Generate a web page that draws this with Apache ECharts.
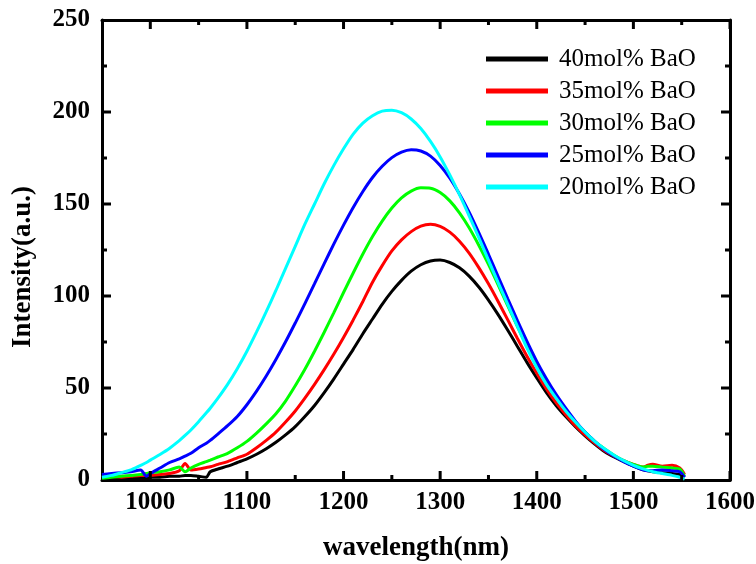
<!DOCTYPE html>
<html><head><meta charset="utf-8">
<script src="https://cdn.jsdelivr.net/npm/echarts@6/dist/echarts.min.js"></script>
<style>html,body{margin:0;padding:0;background:#fff}#c{width:756px;height:564px}</style>
</head><body><div id="c"></div>
<script>
// wavelength grid (nm)
const wavelength = [950,960,970,980,990,996,1000,1010,1020,1030,1036,1042,1050,1058,1062,
  1070,1080,1090,1100,1110,1120,1130,1140,1150,1160,1170,1180,1190,1200,1210,1220,1230,1240,1250,
  1260,1270,1280,1290,1300,1310,1320,1330,1340,1350,1360,1370,1380,1390,1400,1410,1420,1430,1440,
  1450,1460,1470,1480,1490,1500,1510,1515,1520,1530,1540,1548,1553];

const seriesNames = ['40mol% BaO','35mol% BaO','30mol% BaO','25mol% BaO','20mol% BaO'];
const seriesColors = ['#000000','#ff0000','#00ff00','#0000ff','#00ffff'];

const bao40 = [0.5,0.5,1,1,1,1,1.5,1.5,2,2,2.5,2.5,2,1.5,4.5,
  6,7.5,9.5,11.5,14,17,20.5,24.5,29,34.5,40.5,47.5,55,63,71,79.5,87.5,95.5,102.5,
  108.5,113.5,117,119,119.5,118.2,115.3,110.8,104.9,97.8,89.9,81.4,72.6,63.8,55.5,47.5,40.5,34.5,29,
  24,19.5,15.5,12.5,10,7.5,5.5,5,4.5,4,3.5,3,1.5];
const bao35 = [1.5,2,1.5,2,2.5,2.5,2.5,3,3.5,5,9,5.5,6,6.8,7.2,
  8.5,10,12,14,17.5,21.5,26,31.5,37.5,44.5,52,60,68.5,77.5,87,97,107.5,116.5,124.5,
  130.5,135,138,139,137.8,134.7,129.8,123.3,115.4,106.6,97,87,76.9,67.1,58,49.5,42,35.5,29.5,
  24.5,20,16,13,10.5,8.5,7,8,8.5,7.5,8,6.5,3];
const bao30 = [1,1.5,2,2.5,3,3.5,4,4.5,5.5,7,4.5,6.5,8.5,10,10.8,
  12.5,14.5,17.5,21,25.5,30.5,36,42.9,51.2,60.2,70,80.3,91,101.9,112.5,122.8,132.3,140.7,147.8,
  153.3,157,158.8,158.6,156.2,151.7,145.2,137.1,127.6,117.2,106.1,94.7,83.4,72.4,62,53,45,38,31.5,
  26,21,17,13.5,10.5,8.5,7,7.5,7.5,7,6.5,6,2];
const bao25 = [3,3.5,4,4.5,5.5,2,3.5,6.5,9.5,11.5,13,14.5,17.5,20,21.5,
  25,29.5,34.5,40.9,48.3,56.5,65.5,75.1,85.3,95.9,106.7,117.6,128.3,138.5,148.1,156.8,164.4,170.5,175.2,
  178.2,179.5,178.8,176,170.9,164,155.4,145.5,134.4,122.7,110.6,98.5,86.6,75.2,64.5,55,46.5,39,32,
  26,21,16.5,13,10,7.5,5.5,5,5,5.5,5,4.5,1.5];
const bao20 = [1.5,2.5,4,5.5,8,9.5,10.8,13.9,17.3,21.4,24.2,27.2,31.7,36.5,39,
  44.5,52,60.5,70,80.5,91.5,103,115,127,139,150,161,171,180,188,194,198,200.5,201,
  199.6,196.2,191,184,175.6,165.8,155.1,143.6,131.7,119.5,107.3,95.5,83.5,71.5,61,52,44.5,37.5,31.5,
  26,21,17,13.5,10.5,8,6,5.2,4.5,3.5,2.5,1.5,0.5];
const seriesValues = [bao40, bao35, bao30, bao25, bao20];

// axis ticks
const xMajorTicks = [1000,1100,1200,1300,1400,1500,1600];
const xMinorTicks = [1050,1150,1250,1350,1450,1550];
const yMajorTicks = [50,100,150,200];
const yMinorTicks = [25,75,125,175,225];
const xRange = [950, 1600];
const yRange = [0, 250];

const FONT = '"Liberation Serif","Times New Roman",serif';
const black = '#000';
const plain = v => String(v);

const chart = echarts.init(document.getElementById('c'));

function axisBase(pos) {
  return {
    type: 'value', position: pos,
    axisLine: { show: true, onZero: false, lineStyle: { color: black, width: 3 } },
    axisTick: { show: false }, minorTick: { show: false },
    splitLine: { show: false }, minorSplitLine: { show: false }
  };
}
const labelStyle = { fontFamily: FONT, fontWeight: 'bold', fontSize: 25, color: black, formatter: plain };

chart.setOption({
  animation: false,
  grid: { left: 102, right: 26, top: 20, bottom: 84, containLabel: false, outerBoundsMode: 'none' },
  xAxis: [
    Object.assign(axisBase('bottom'), { min: xRange[0], max: xRange[1],
      axisLabel: Object.assign({ show: true, customValues: xMajorTicks, margin: 10 }, labelStyle) }),
    Object.assign(axisBase('top'), { min: xRange[0], max: xRange[1], axisLabel: { show: false } })
  ],
  yAxis: [
    Object.assign(axisBase('left'), { min: yRange[0], max: yRange[1], interval: 50,
      axisLabel: Object.assign({ show: true, margin: 12 }, labelStyle) }),
    Object.assign(axisBase('right'), { min: yRange[0], max: yRange[1], interval: 50, axisLabel: { show: false } })
  ],
  legend: {
    orient: 'vertical', left: 486, top: 46, padding: 0,
    itemWidth: 62, itemHeight: 5, itemGap: 6, icon: 'rect',
    textStyle: { fontFamily: FONT, fontSize: 25, color: black, lineHeight: 26, padding: [0, 0, 0, 6] },
    data: seriesNames
  },
  series: seriesNames.map((name, k) => ({
    name: name, type: 'line', xAxisIndex: 0, yAxisIndex: 0,
    symbol: 'none', smooth: 0.25,
    lineStyle: { color: seriesColors[k], width: 3 },
    itemStyle: { color: seriesColors[k] },
    data: wavelength.map((w, i) => [w, seriesValues[k][i]])
  }))
});

// inward tick marks placed through the chart's own scales
const toPx = (x, y) => chart.convertToPixel({ gridIndex: 0 }, [x, y]);
const tickEls = [];
function addTick(p, dx, dy) {
  tickEls.push({ type: 'line', z: 10, silent: true,
    shape: { x1: p[0], y1: p[1], x2: p[0] + dx, y2: p[1] + dy },
    style: { stroke: black, lineWidth: 3 } });
}
[[xMajorTicks, 9], [xMinorTicks, 5]].forEach(([ticks, len]) => ticks.forEach(v => {
  addTick(toPx(v, yRange[0]), 0, -len);
  addTick(toPx(v, yRange[1]), 0, len);
}));
[[yMajorTicks, 9], [yMinorTicks, 5]].forEach(([ticks, len]) => ticks.forEach(v => {
  addTick(toPx(xRange[0], v), len, 0);
  addTick(toPx(xRange[1], v), -len, 0);
}));

chart.setOption({
  graphic: [
    { type: 'text', x: 416, y: 548, style: { text: 'wavelength(nm)', font: 'bold 27px ' + FONT, fill: black, align: 'center', verticalAlign: 'middle' } },
    { type: 'text', x: 23, y: 267, rotation: Math.PI / 2, style: { text: 'Intensity(a.u.)', font: 'bold 27px ' + FONT, fill: black, align: 'center', verticalAlign: 'middle' } }
  ].concat(tickEls)
});
</script>
</body></html>
